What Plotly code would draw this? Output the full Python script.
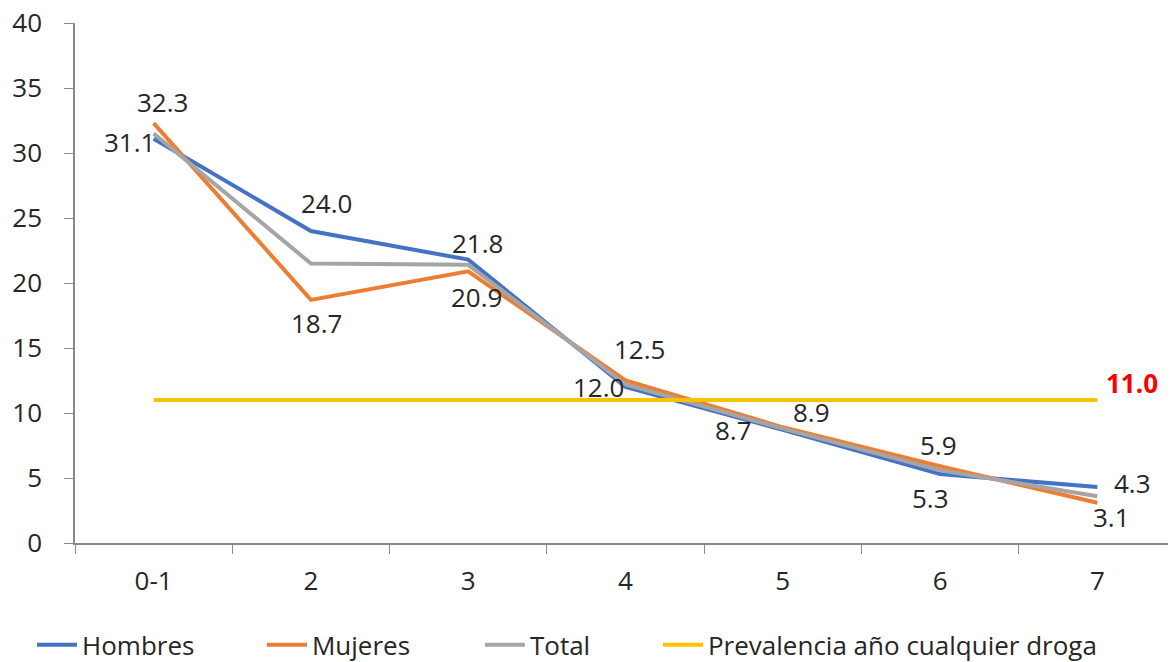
import plotly.graph_objects as go

categories = ["0-1", "2", "3", "4", "5", "6", "7"]
hombres = [31.1, 24.0, 21.8, 12.0, 8.7, 5.3, 4.3]
mujeres = [32.3, 18.7, 20.9, 12.5, 8.9, 5.9, 3.1]
total = [31.5, 21.5, 21.4, 12.2, 8.8, 5.6, 3.6]
prevalencia = [11.0, 11.0, 11.0, 11.0, 11.0, 11.0, 11.0]

y_ticks = [0, 5, 10, 15, 20, 25, 30, 35, 40]

# label offsets (pixels) for data labels
hombres_off = [(-24, -3), (16, 28), (9, 17), (-27, 0), (-49, 0), (-10, -24), (35, 4)]
mujeres_off = [(9, 21), (6, -23), (8, -26), (14, 32), (29, 15), (-2, 21), (14, -14)]

FONT = "Open Sans, Noto Sans, sans-serif"
FS = 26
TXT = "#262626"

fig = go.Figure()
fig.add_trace(go.Scatter(x=categories, y=hombres, name="Hombres", mode="lines",
                         line=dict(color="#4472C4", width=4), legend="legend"))
fig.add_trace(go.Scatter(x=categories, y=mujeres, name="Mujeres", mode="lines",
                         line=dict(color="#ED7D31", width=4), legend="legend2"))
fig.add_trace(go.Scatter(x=categories, y=total, name="Total", mode="lines",
                         line=dict(color="#A5A5A5", width=4), legend="legend3"))
fig.add_trace(go.Scatter(x=categories, y=prevalencia, name="Prevalencia año cualquier droga",
                         mode="lines", line=dict(color="#FFC000", width=4), legend="legend4"))

annotations = []
for series, offs in ((hombres, hombres_off), (mujeres, mujeres_off)):
    for i, (v, (dx, dy)) in enumerate(zip(series, offs)):
        annotations.append(dict(x=i, y=v, xref="x", yref="y", text=f"{v:.1f}",
                                showarrow=False, xshift=dx, yshift=dy,
                                font=dict(family=FONT, size=FS, color=TXT)))
annotations.append(dict(x=len(categories) - 1, y=prevalencia[-1], xref="x", yref="y",
                        text=f"<b>{prevalencia[-1]:.1f}</b>", showarrow=False,
                        xshift=35, yshift=17,
                        font=dict(family=FONT, size=FS, color="#FF0000")))

def leg(x):
    return dict(orientation="h", x=x, xanchor="left", y=-0.196, yanchor="middle",
                font=dict(family=FONT, size=FS, color=TXT), itemwidth=40,
                bgcolor="rgba(0,0,0,0)")

# page has an 8px body margin: figure is sized to fill the rest of the window
fig.update_layout(
    width=1168, height=654,
    margin=dict(l=67, r=0, t=15, b=119, autoexpand=False),
    paper_bgcolor="white", plot_bgcolor="white",
    font=dict(family=FONT, size=FS, color=TXT),
    annotations=annotations,
    showlegend=True,
    legend=leg(-0.039), legend2=leg(0.1698), legend3=leg(0.3678), legend4=leg(0.5295),
    xaxis=dict(type="category", range=[-0.5, 6.5], showgrid=False, zeroline=False,
               showline=True, linecolor="#898989", linewidth=1.5, automargin=False,
               ticks="outside", tickson="boundaries", ticklen=9, tickcolor="#898989",
               tickfont=dict(family=FONT, size=FS, color=TXT), ticklabelstandoff=14,
               ticklabeloverflow="allow"),
    yaxis=dict(range=[0, 40], tickvals=y_ticks, showgrid=False, zeroline=False,
               showline=True, linecolor="#898989", linewidth=1.5, automargin=False,
               ticks="outside", ticklen=9, tickcolor="#898989",
               tickfont=dict(family=FONT, size=FS, color=TXT), ticklabelstandoff=17,
               ticklabeloverflow="allow"),
)

fig.write_html("out.html")
